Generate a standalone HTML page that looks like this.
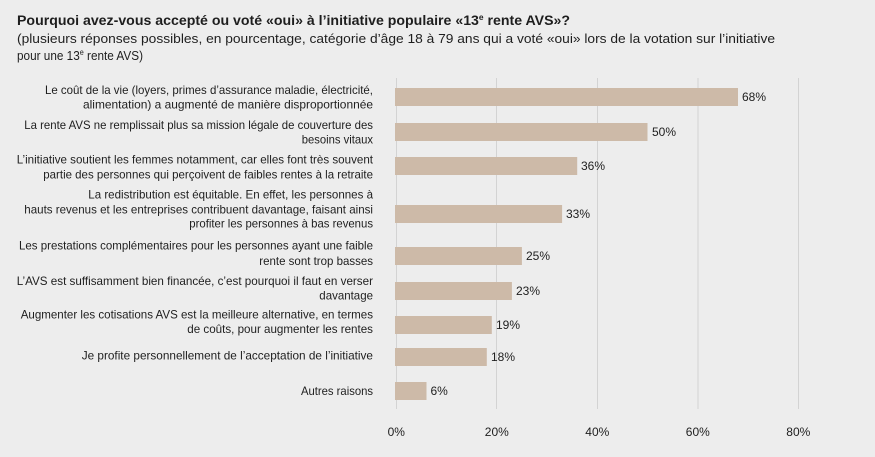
<!DOCTYPE html>
<html><head><meta charset="utf-8"><style>
html,body{margin:0;padding:0;background:#ededed;}
svg{display:block;}
text{font-family:"Liberation Sans",sans-serif;fill:#1e1e1e;}
.l{font-size:12px;}
.v{font-size:12px;}
</style></head><body>
<svg width="875" height="457" viewBox="0 0 875 457" xmlns="http://www.w3.org/2000/svg">
<rect x="0" y="0" width="875" height="457" fill="#ededed"/>
<text x="17" y="25" font-size="13.5" font-weight="bold" textLength="553" lengthAdjust="spacingAndGlyphs">Pourquoi avez-vous accepté ou voté «oui» à l’initiative populaire «13<tspan font-size="8" dy="-5">e</tspan><tspan dy="5"> rente AVS»?</tspan></text>
<text x="17" y="43" font-size="13" textLength="758" lengthAdjust="spacingAndGlyphs">(plusieurs réponses possibles, en pourcentage, catégorie d’âge 18 à 79 ans qui a voté «oui» lors de la votation sur l’initiative</text>
<text x="17" y="60" font-size="13" textLength="126" lengthAdjust="spacingAndGlyphs">pour une 13<tspan font-size="8" dy="-5">e</tspan><tspan dy="5"> rente AVS)</tspan></text>

<g stroke="#d3d3d3" stroke-width="1">
<line x1="396.5" y1="78" x2="396.5" y2="409"/>
<line x1="496.5" y1="78" x2="496.5" y2="409"/>
<line x1="597.5" y1="78" x2="597.5" y2="409"/>
<line x1="698" y1="78" x2="698" y2="409"/>
<line x1="798.5" y1="78" x2="798.5" y2="409"/>
</g>

<g fill="#cdbaa8">
<rect x="395" y="88" width="343" height="18"/>
<rect x="395" y="123" width="252.5" height="18"/>
<rect x="395" y="157" width="182.2" height="18"/>
<rect x="395" y="205" width="167.1" height="18"/>
<rect x="395" y="247" width="126.9" height="18"/>
<rect x="395" y="282" width="116.9" height="18"/>
<rect x="395" y="316" width="96.8" height="18"/>
<rect x="395" y="348" width="91.8" height="18"/>
<rect x="395" y="382" width="31.5" height="18"/>
</g>

<g class="v">
<text class="v" x="742" y="101">68%</text>
<text class="v" x="652" y="136">50%</text>
<text class="v" x="581" y="170">36%</text>
<text class="v" x="566" y="218">33%</text>
<text class="v" x="526" y="260">25%</text>
<text class="v" x="516" y="295">23%</text>
<text class="v" x="496" y="329">19%</text>
<text class="v" x="491" y="361">18%</text>
<text class="v" x="430.5" y="395">6%</text>
</g>

<g class="l">
<text class="l" x="45" y="94" textLength="328" lengthAdjust="spacingAndGlyphs">Le coût de la vie (loyers, primes d’assurance maladie, électricité,</text>
<text class="l" x="83" y="108.3" textLength="290" lengthAdjust="spacingAndGlyphs">alimentation) a augmenté de manière disproportionnée</text>
<text class="l" x="24.3" y="129" textLength="348.7" lengthAdjust="spacingAndGlyphs">La rente AVS ne remplissait plus sa mission légale de couverture des</text>
<text class="l" x="301.7" y="143.3" textLength="71.3" lengthAdjust="spacingAndGlyphs">besoins vitaux</text>
<text class="l" x="16.7" y="163.3" textLength="356.3" lengthAdjust="spacingAndGlyphs">L’initiative soutient les femmes notamment, car elles font très souvent</text>
<text class="l" x="43.3" y="178.3" textLength="329.7" lengthAdjust="spacingAndGlyphs">partie des personnes qui perçoivent de faibles rentes à la retraite</text>
<text class="l" x="88.3" y="198.3" textLength="284.7" lengthAdjust="spacingAndGlyphs">La redistribution est équitable. En effet, les personnes à</text>
<text class="l" x="24.3" y="213.3" textLength="348.7" lengthAdjust="spacingAndGlyphs">hauts revenus et les entreprises contribuent davantage, faisant ainsi</text>
<text class="l" x="189.3" y="227.7" textLength="183.7" lengthAdjust="spacingAndGlyphs">profiter les personnes à bas revenus</text>
<text class="l" x="19" y="249.5" textLength="354" lengthAdjust="spacingAndGlyphs">Les prestations complémentaires pour les personnes ayant une faible</text>
<text class="l" x="259.3" y="265" textLength="113.7" lengthAdjust="spacingAndGlyphs">rente sont trop basses</text>
<text class="l" x="16.7" y="285" textLength="356.3" lengthAdjust="spacingAndGlyphs">L’AVS est suffisamment bien financée, c’est pourquoi il faut en verser</text>
<text class="l" x="319.3" y="299.5" textLength="53.7" lengthAdjust="spacingAndGlyphs">davantage</text>
<text class="l" x="20.7" y="318.5" textLength="352.3" lengthAdjust="spacingAndGlyphs">Augmenter les cotisations AVS est la meilleure alternative, en termes</text>
<text class="l" x="187.3" y="333" textLength="185.7" lengthAdjust="spacingAndGlyphs">de coûts, pour augmenter les rentes</text>
<text class="l" x="81.7" y="359.5" textLength="291.3" lengthAdjust="spacingAndGlyphs">Je profite personnellement de l’acceptation de l’initiative</text>
<text class="l" x="301" y="395" textLength="72" lengthAdjust="spacingAndGlyphs">Autres raisons</text>
</g>

<g>
<text x="396.3" y="436" text-anchor="middle" font-size="12">0%</text>
<text x="496.8" y="436" text-anchor="middle" font-size="12">20%</text>
<text x="597.3" y="436" text-anchor="middle" font-size="12">40%</text>
<text x="697.8" y="436" text-anchor="middle" font-size="12">60%</text>
<text x="798.3" y="436" text-anchor="middle" font-size="12">80%</text>
</g>
</svg>
</body></html>
